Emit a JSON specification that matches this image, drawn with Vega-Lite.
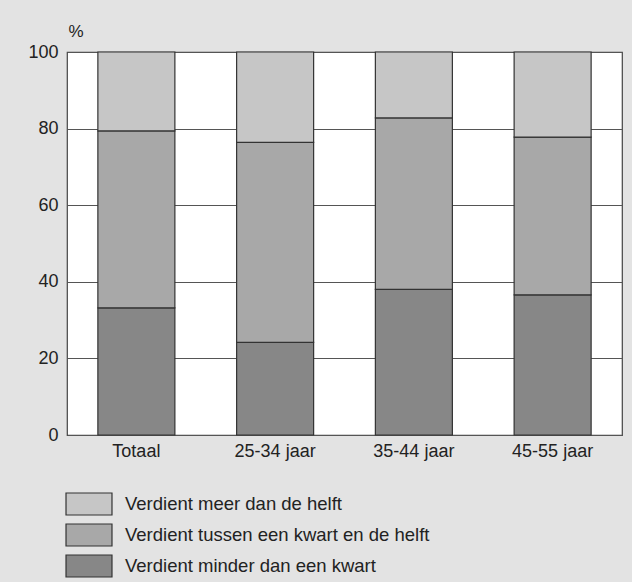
{
  "$schema": "https://vega.github.io/schema/vega-lite/v6.json",
  "autosize": "none",
  "width": 555,
  "height": 383,
  "padding": {"left": 67, "top": 52, "right": 10, "bottom": 147},
  "background": "#e3e3e3",
  "config": {
    "font": "Liberation Sans",
    "view": {"fill": "white", "stroke": "#444", "strokeWidth": 1.2}
  },
  "data": {
    "values": [
      {"groep": "Totaal", "categorie": "Verdient minder dan een kwart", "stapel": 1, "waarde": 33.2},
      {"groep": "Totaal", "categorie": "Verdient tussen een kwart en de helft", "stapel": 2, "waarde": 46.2},
      {"groep": "Totaal", "categorie": "Verdient meer dan de helft", "stapel": 3, "waarde": 20.6},
      {"groep": "25-34 jaar", "categorie": "Verdient minder dan een kwart", "stapel": 1, "waarde": 24.2},
      {"groep": "25-34 jaar", "categorie": "Verdient tussen een kwart en de helft", "stapel": 2, "waarde": 52.2},
      {"groep": "25-34 jaar", "categorie": "Verdient meer dan de helft", "stapel": 3, "waarde": 23.6},
      {"groep": "35-44 jaar", "categorie": "Verdient minder dan een kwart", "stapel": 1, "waarde": 38.0},
      {"groep": "35-44 jaar", "categorie": "Verdient tussen een kwart en de helft", "stapel": 2, "waarde": 44.8},
      {"groep": "35-44 jaar", "categorie": "Verdient meer dan de helft", "stapel": 3, "waarde": 17.2},
      {"groep": "45-55 jaar", "categorie": "Verdient minder dan een kwart", "stapel": 1, "waarde": 36.6},
      {"groep": "45-55 jaar", "categorie": "Verdient tussen een kwart en de helft", "stapel": 2, "waarde": 41.2},
      {"groep": "45-55 jaar", "categorie": "Verdient meer dan de helft", "stapel": 3, "waarde": 22.2}
    ]
  },
  "mark": {"type": "bar", "stroke": "#333", "strokeWidth": 1.2},
  "encoding": {
    "x": {
      "field": "groep",
      "type": "nominal",
      "sort": ["Totaal", "25-34 jaar", "35-44 jaar", "45-55 jaar"],
      "scale": {"paddingInner": 0.445, "paddingOuter": 0.2225},
      "axis": {
        "title": null,
        "labelAngle": 0,
        "labelFontSize": 18,
        "labelColor": "#222",
        "labelPadding": 7,
        "ticks": false,
        "domain": false
      }
    },
    "y": {
      "field": "waarde",
      "type": "quantitative",
      "stack": "zero",
      "scale": {"domain": [0, 100], "nice": false},
      "axis": {
        "values": [0, 20, 40, 60, 80, 100],
        "title": "%",
        "titleAngle": 0,
        "titleX": 8.5,
        "titleY": -15.5,
        "titleAlign": "center",
        "titleBaseline": "alphabetic",
        "titleFontSize": 17,
        "titleFontWeight": "normal",
        "titleColor": "#222",
        "labelFontSize": 18,
        "labelColor": "#222",
        "labelPadding": 9,
        "ticks": false,
        "domain": false,
        "grid": true,
        "gridColor": "#555",
        "gridWidth": 1.2,
        "gridOpacity": 1
      }
    },
    "color": {
      "field": "categorie",
      "type": "nominal",
      "scale": {
        "domain": ["Verdient meer dan de helft", "Verdient tussen een kwart en de helft", "Verdient minder dan een kwart"],
        "range": ["#c6c6c6", "#a8a8a8", "#878787"]
      },
      "legend": {
        "title": null,
        "orient": "none",
        "legendX": 10,
        "legendY": 440,
        "direction": "vertical",
        "symbolType": "M-2.09,-1H2.09V1H-2.09Z",
        "symbolSize": 484,
        "symbolStrokeColor": "#333",
        "symbolStrokeWidth": 1.2,
        "symbolOpacity": 1,
        "labelFontSize": 18.5,
        "labelColor": "#222",
        "labelOffset": 24,
        "labelLimit": 0,
        "rowPadding": 3
      }
    },
    "order": {"field": "stapel", "type": "quantitative"}
  }
}
